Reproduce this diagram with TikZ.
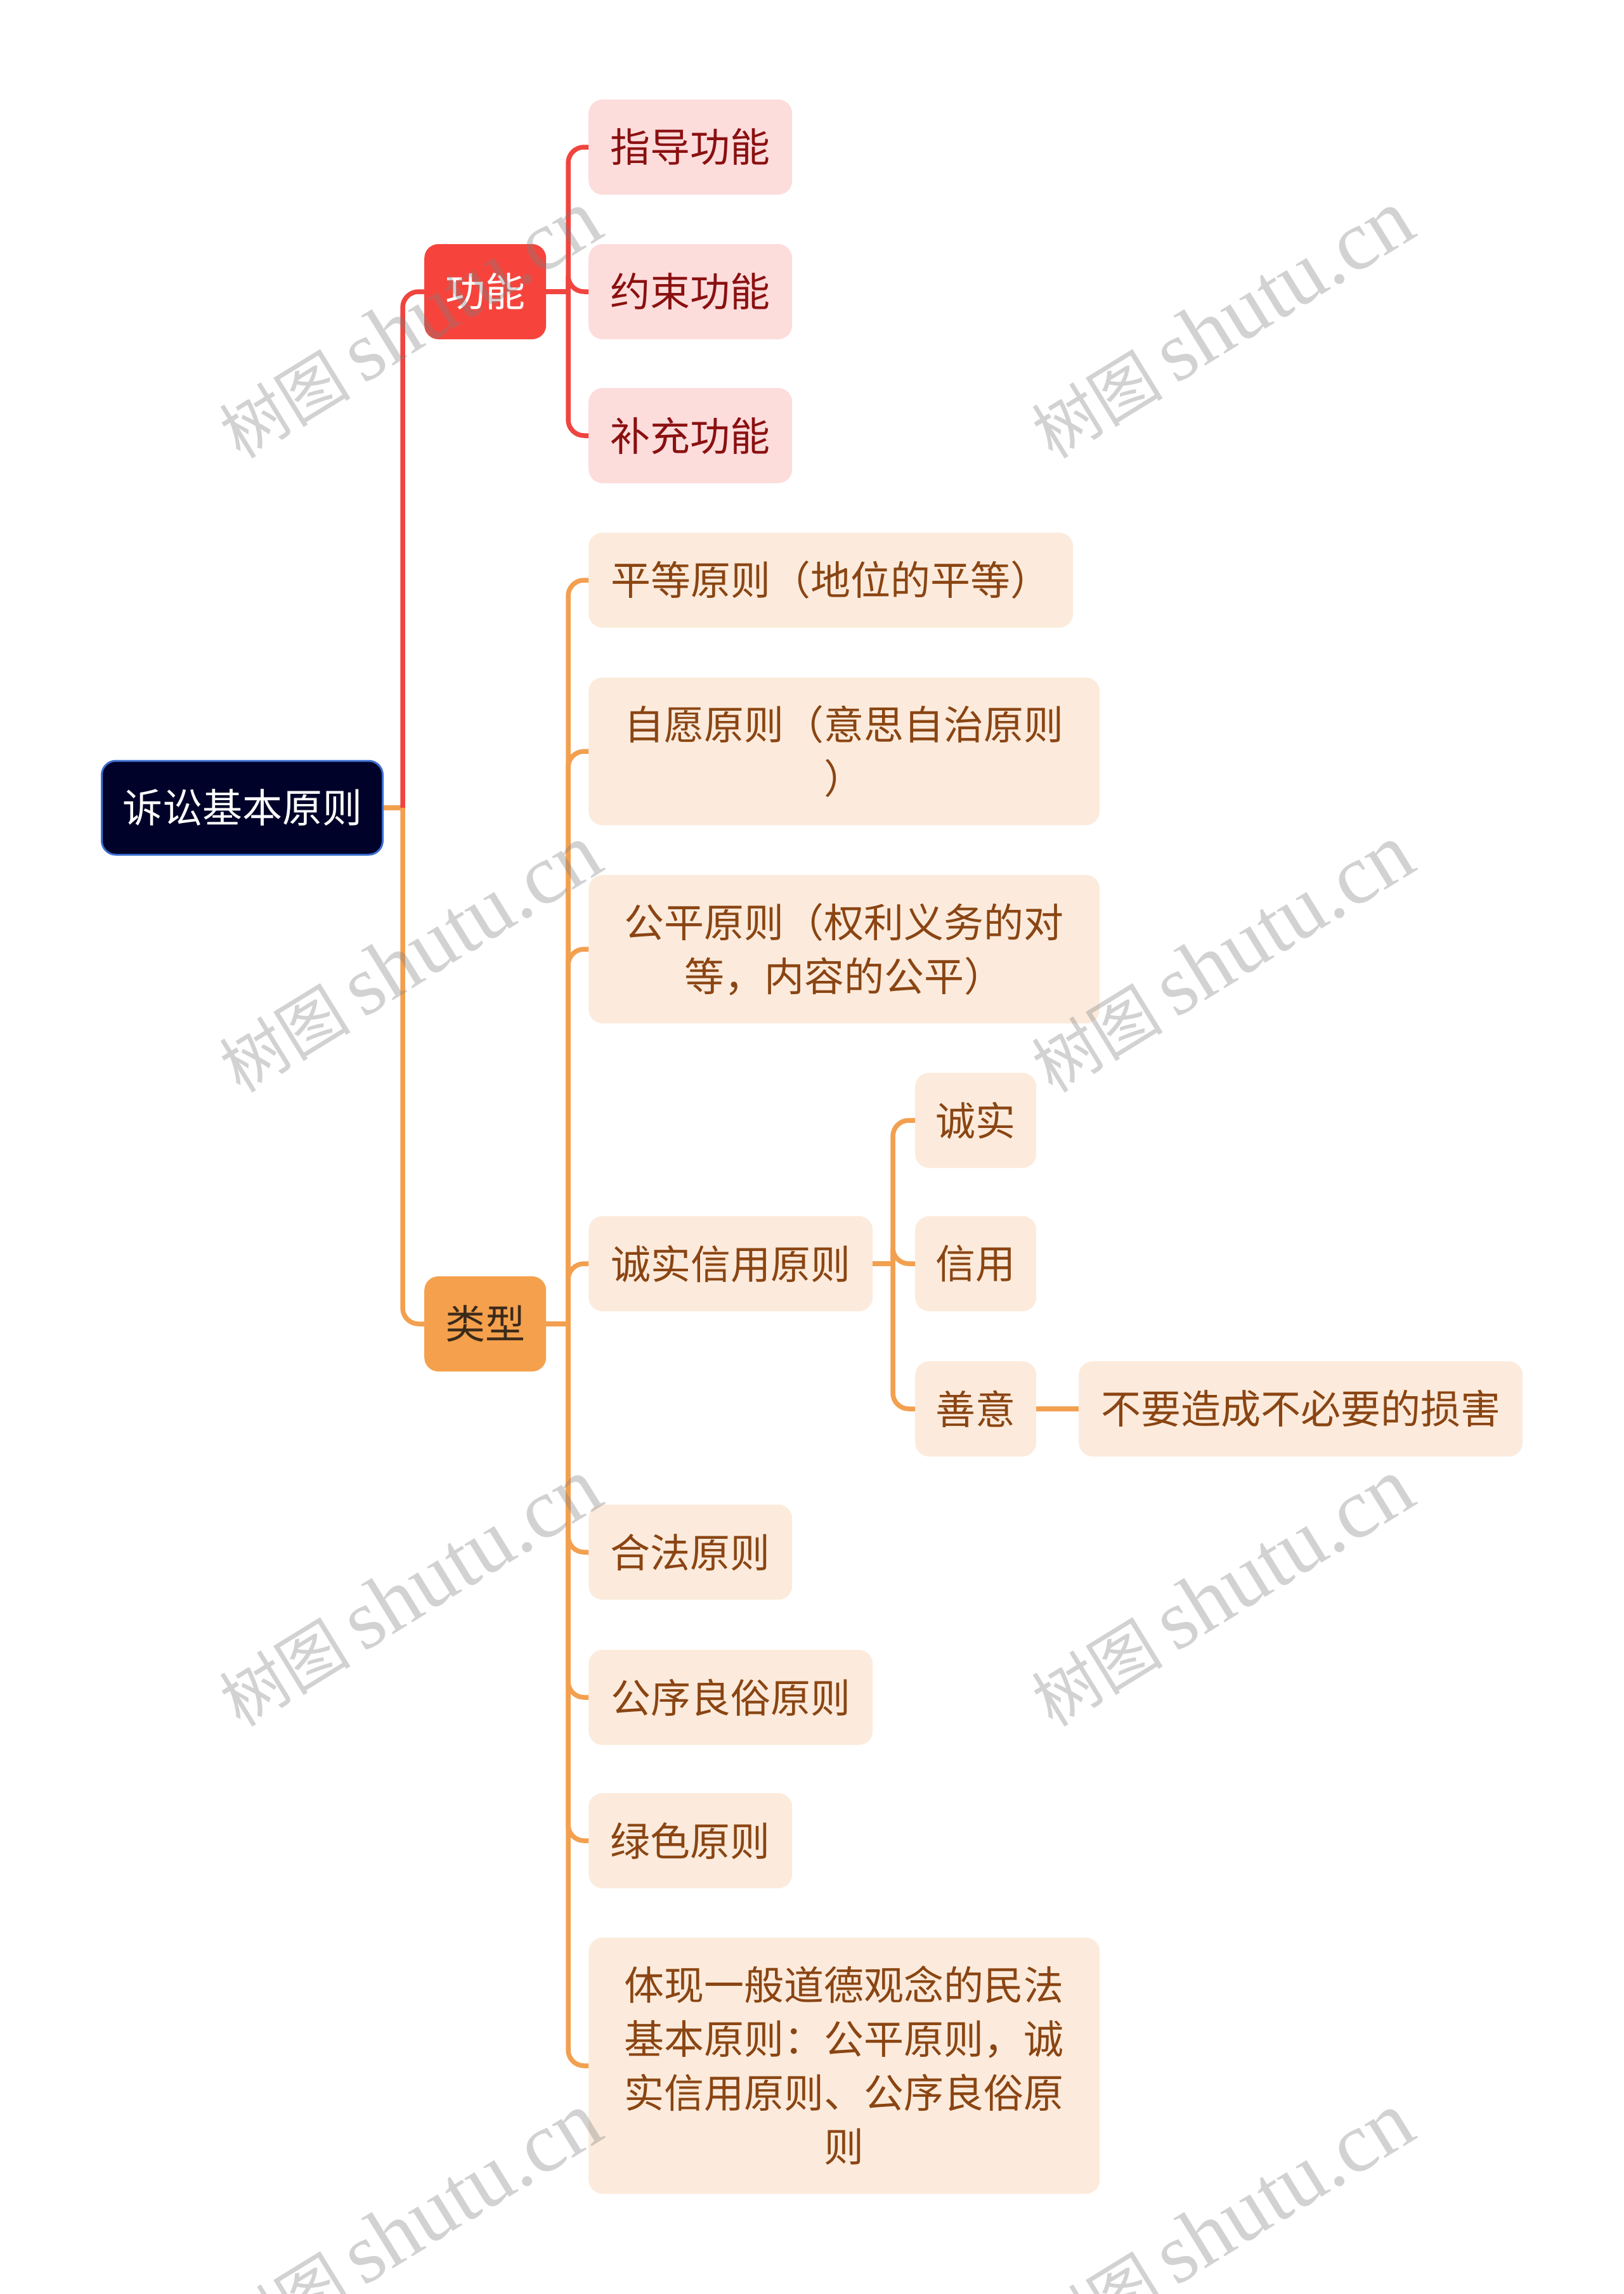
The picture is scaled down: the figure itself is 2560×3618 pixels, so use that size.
\documentclass[tikz,border=0pt]{standalone}
\usepackage{fontspec}
\setmainfont{Noto Sans CJK SC}
\newfontfamily\wmcjk{Noto Sans CJK SC}
\newfontfamily\wmlat{Liberation Serif}
\definecolor{rootfill}{HTML}{000229}
\definecolor{rootborder}{HTML}{3B6FD0}
\definecolor{redmain}{HTML}{F6443C}
\definecolor{redline}{HTML}{F0443E}
\definecolor{pinkfill}{HTML}{FDDCDC}
\definecolor{redtext}{HTML}{8A1010}
\definecolor{orgmain}{HTML}{F5A04C}
\definecolor{orgline}{HTML}{F2A050}
\definecolor{peachfill}{HTML}{FCEBDC}
\definecolor{browntext}{HTML}{8A4513}
\definecolor{darktext}{HTML}{3A2A1A}
\newcommand{\wmtext}{{\wmcjk\fontsize{104}{120}\selectfont 树图}\hspace{20pt}{\wmlat\fontsize{134}{144}\selectfont shutu.cn}}
\begin{document}
\begin{tikzpicture}[x=1pt,y=-1pt,
  box/.style={rounded corners=22pt, inner sep=0pt, align=center,
    font=\fontsize{63}{85}\selectfont, minimum height=150pt, anchor=west},
  rootbox/.style={box, fill=rootfill, draw=rootborder, line width=3pt, text=white},
  redtop/.style={box, fill=redmain, text=white},
  orgtop/.style={box, fill=orgmain, text=darktext},
  pinkbox/.style={box, fill=pinkfill, text=redtext},
  peachbox/.style={box, fill=peachfill, text=browntext},
  conn/.style={line width=7.5pt},
  redc/.style={conn, draw=redline},
  orgc/.style={conn, draw=orgline},
  roundbend/.style={rounded corners=25pt},
  wm/.style={rotate=31.6, text=gray, text opacity=0.35, inner sep=0pt}
]
\useasboundingbox (0,0) rectangle (2560,3618);
\fill[white] (0,0) rectangle (2560,3618);

% root and main topics
\node[rootbox, minimum width=443pt, minimum height=148pt] (root) at (159,1274) {诉讼基本原则};
\node[redtop, minimum width=192pt] (gn) at (669,460) {功能};
\node[orgtop, minimum width=192pt] (lx) at (669,2088) {类型};

% 功能 children
\node[pinkbox, minimum width=321pt] (g1) at (928,232) {指导功能};
\node[pinkbox, minimum width=321pt] (g2) at (928,460) {约束功能};
\node[pinkbox, minimum width=321pt] (g3) at (928,687) {补充功能};

% 类型 children
\node[peachbox, minimum width=764pt] (t1) at (928,915) {平等原则（地位的平等）};
\node[peachbox, minimum width=806pt, minimum height=233pt] (t2) at (928,1185) {自愿原则（意思自治原则\\）};
\node[peachbox, minimum width=806pt, minimum height=234pt] (t3) at (928,1497) {公平原则（权利义务的对\\等，内容的公平）};
\node[peachbox, minimum width=448pt] (t4) at (928,1993) {诚实信用原则};
\node[peachbox, minimum width=321pt] (t5) at (928,2448) {合法原则};
\node[peachbox, minimum width=448pt] (t6) at (928,2677) {公序良俗原则};
\node[peachbox, minimum width=321pt] (t7) at (928,2903) {绿色原则};
\node[peachbox, minimum width=806pt, minimum height=404pt] (t8) at (928,3258) {体现一般道德观念的民法\\基本原则：公平原则，诚\\实信用原则、公序良俗原\\则};

% 诚实信用原则 children
\node[peachbox, minimum width=191pt] (s1) at (1443,1767) {诚实};
\node[peachbox, minimum width=191pt] (s2) at (1443,1993) {信用};
\node[peachbox, minimum width=191pt] (s3) at (1443,2222) {善意};
\node[peachbox, minimum width=700pt] (s4) at (1701,2222) {不要造成不必要的损害};

% bus points
\coordinate (rb) at (635,1274);
\coordinate (gb) at (896,460);
\coordinate (lb) at (896,2088);
\coordinate (sb) at (1408,1993);

% root connectors
\draw[orgc] (root.east) -- (rb);
\draw[redc, roundbend] (rb) |- (gn.west);
\draw[orgc, roundbend] (rb) |- (lx.west);

% 功能 connectors
\draw[redc] (gn.east) -- (gb);
\foreach \c in {g1,g2,g3} { \draw[redc, roundbend] (gb) |- (\c.west); }

% 类型 connectors
\draw[orgc] (lx.east) -- (lb);
\foreach \c in {t1,t2,t3,t4,t5,t6,t7,t8} { \draw[orgc, roundbend] (lb) |- (\c.west); }

% 诚实信用原则 connectors
\draw[orgc] (t4.east) -- (sb);
\foreach \c in {s1,s2,s3} { \draw[orgc, roundbend] (sb) |- (\c.west); }
\draw[orgc] (s3.east) -- (s4.west);

% watermarks
\node[wm] (w1) at (646,512) {\wmtext};
\node[wm] (w2) at (1927,512) {\wmtext};
\node[wm] (w3) at (646,1512) {\wmtext};
\node[wm] (w4) at (1927,1512) {\wmtext};
\node[wm] (w5) at (646,2512) {\wmtext};
\node[wm] (w6) at (1927,2512) {\wmtext};
\node[wm] (w7) at (646,3512) {\wmtext};
\node[wm] (w8) at (1927,3512) {\wmtext};
\end{tikzpicture}
\end{document}
